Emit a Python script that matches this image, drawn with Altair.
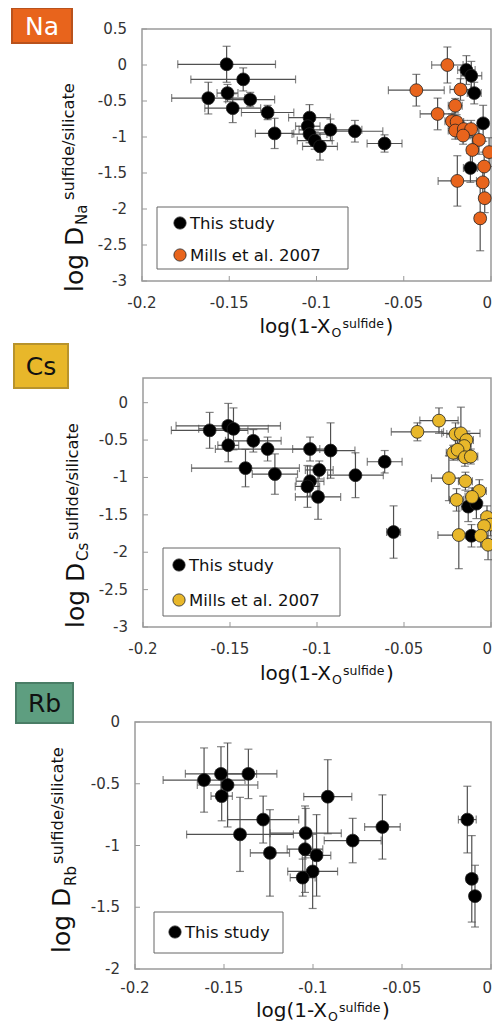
import altair as alt
import pandas as pd

FONT = "DejaVu Sans"
X_TICKS = [-0.2, -0.15, -0.1, -0.05, 0]

# ---------------- Na ----------------
na_this_x = [-0.1515, -0.142, -0.162, -0.151, -0.148, -0.138, -0.128, -0.124, -0.104, -0.105, -0.104,
             -0.101, -0.098, -0.092, -0.078, -0.061, -0.0141, -0.0113, -0.0096, -0.0045, -0.0118]
na_this_y = [0.01, -0.20, -0.46, -0.39, -0.60, -0.48, -0.66, -0.95, -0.73, -0.85, -0.96,
             -1.05, -1.13, -0.90, -0.92, -1.09, -0.07, -0.15, -0.39, -0.81, -1.43]
na_this_xerr = [0.028, 0.03, 0.021, 0.006, 0.016, 0.014, 0.015, 0.011, 0.012, 0.007, 0.01,
                0.01, 0.01, 0.018, 0.016, 0.01, 0.005, 0.006, 0.004, 0.003, 0.004]
na_this_yerr = [0.25, 0.16, 0.22, 0.12, 0.2, 0.1, 0.1, 0.21, 0.18, 0.1, 0.12,
                0.12, 0.19, 0.15, 0.15, 0.12, 0.2, 0.2, 0.15, 0.25, 0.2]
na_mills_x = [-0.025, -0.0428, -0.0175, -0.0205, -0.0306, -0.0224, -0.0197, -0.0205, -0.0156, -0.0114,
              -0.016, -0.0069, -0.0107, -0.0011, -0.0039, -0.0047, -0.0193, -0.0036, -0.0062]
na_mills_y = [0.00, -0.35, -0.34, -0.565, -0.68, -0.78, -0.79, -0.91, -0.89, -0.89,
              -0.98, -1.04, -1.18, -1.21, -1.41, -1.63, -1.61, -1.85, -2.13]
na_mills_xerr = [0.009, 0.016, 0.006, 0.004, 0.01, 0.004, 0.004, 0.004, 0.004, 0.004,
                 0.004, 0.003, 0.003, 0.002, 0.003, 0.003, 0.011, 0.003, 0.003]
na_mills_yerr = [0.25, 0.22, 0.15, 0.1, 0.22, 0.1, 0.1, 0.12, 0.12, 0.12,
                 0.12, 0.2, 0.2, 0.2, 0.2, 0.2, 0.35, 0.2, 0.45]
na_yticks = [0.5, 0, -0.5, -1, -1.5, -2, -2.5, -3]

# ---------------- Cs ----------------
cs_this_x = [-0.1617, -0.151, -0.148, -0.151, -0.1366, -0.1284, -0.1411, -0.1242, -0.104, -0.0922,
             -0.0987, -0.104, -0.1055, -0.0994, -0.0779, -0.0611, -0.056, -0.0131, -0.0084, -0.0112]
cs_this_y = [-0.37, -0.31, -0.35, -0.57, -0.51, -0.62, -0.875, -0.955, -0.62, -0.64,
             -0.90, -1.05, -1.12, -1.26, -0.97, -0.79, -1.73, -1.39, -1.35, -1.78]
cs_this_xerr = [0.022, 0.03, 0.02, 0.006, 0.016, 0.03, 0.031, 0.013, 0.01, 0.014,
                0.008, 0.008, 0.007, 0.013, 0.016, 0.01, 0.004, 0.004, 0.003, 0.003]
cs_this_yerr = [0.24, 0.3, 0.28, 0.22, 0.15, 0.16, 0.25, 0.27, 0.16, 0.37,
                0.12, 0.2, 0.28, 0.3, 0.3, 0.15, 0.35, 0.2, 0.2, 0.15]
cs_mills_x = [-0.0299, -0.0423, -0.0204, -0.0173, -0.0141, -0.0154, -0.0217, -0.0192, -0.015, -0.0116,
              -0.0242, -0.0147, -0.0067, -0.0109, -0.0198, -0.0023, -0.0003, -0.004, -0.0059, -0.0017, -0.0185]
cs_mills_y = [-0.24, -0.39, -0.42, -0.41, -0.50, -0.58, -0.67, -0.63, -0.73, -0.72,
              -1.01, -1.05, -1.18, -1.26, -1.30, -1.53, -1.63, -1.65, -1.78, -1.90, -1.77]
cs_mills_xerr = [0.011, 0.015, 0.005, 0.011, 0.004, 0.004, 0.004, 0.004, 0.004, 0.004,
                 0.01, 0.004, 0.004, 0.004, 0.004, 0.002, 0.002, 0.003, 0.003, 0.002, 0.012]
cs_mills_yerr = [0.17, 0.12, 0.15, 0.35, 0.12, 0.12, 0.1, 0.12, 0.12, 0.1,
                 0.3, 0.12, 0.15, 0.12, 0.15, 0.15, 0.15, 0.15, 0.15, 0.2, 0.45]
cs_yticks = [0, -0.5, -1, -1.5, -2, -2.5, -3]

# ---------------- Rb ----------------
rb_this_x = [-0.1612, -0.1517, -0.148, -0.1513, -0.1363, -0.141, -0.0917, -0.128, -0.061, -0.0777,
             -0.1041, -0.1242, -0.1045, -0.098, -0.1002, -0.1058, -0.0133, -0.0108, -0.009]
rb_this_y = [-0.47, -0.42, -0.51, -0.60, -0.42, -0.91, -0.605, -0.79, -0.85, -0.96,
             -0.90, -1.06, -1.03, -1.08, -1.21, -1.26, -0.79, -1.27, -1.41]
rb_this_xerr = [0.023, 0.02, 0.017, 0.006, 0.016, 0.03, 0.0135, 0.02, 0.01, 0.016,
                0.02, 0.011, 0.01, 0.008, 0.014, 0.007, 0.005, 0.003, 0.003]
rb_this_yerr = [0.26, 0.22, 0.34, 0.2, 0.2, 0.3, 0.3, 0.19, 0.26, 0.18,
                0.2, 0.35, 0.35, 0.33, 0.3, 0.15, 0.27, 0.35, 0.25]
rb_yticks = [0, -0.5, -1, -1.5, -2]

BLACK = "#000000"
ORANGE = "#E8641C"
GOLD = "#E8B72A"


def err_df(xs, ys, xe, ye):
    df = pd.DataFrame({"x": xs, "y": ys, "xerr": xe, "yerr": ye})
    df["xlo"] = df["x"] - df["xerr"]
    df["xhi"] = df["x"] + df["xerr"]
    df["ylo"] = df["y"] - df["yerr"]
    df["yhi"] = df["y"] + df["yerr"]
    return df


def txt(s, x, y, size, angle=0, align="left", color="#111", baseline="alphabetic"):
    return alt.Chart(pd.DataFrame({"t": [s]})).mark_text(
        align=align, baseline=baseline, angle=angle, font=FONT, fontSize=size, color=color
    ).encode(x=alt.value(x), y=alt.value(y), text="t:N")


def panel(P, groups):
    def X(f):
        return alt.X(f, scale=alt.Scale(domain=[-0.2, 0], range=[P["x0"], P["x1"]], nice=False, zero=False),
                     axis=None)

    def Y(f):
        return alt.Y(f, scale=alt.Scale(domain=P["yd"], range=[P["y1"], P["y0"]], nice=False, zero=False),
                     axis=None)

    x0, x1, y0, y1 = P["x0"], P["x1"], P["y0"], P["y1"]
    layers = []
    # frame
    layers.append(alt.Chart(pd.DataFrame({"a": [0]})).mark_rect(
        filled=False, stroke="#9a9a9a", strokeWidth=1.5).encode(
        x=alt.value(x0), x2=alt.value(x1), y=alt.value(y0), y2=alt.value(y1)))
    # inward ticks
    xtdf = pd.DataFrame({"v": X_TICKS, "lab": [f"{v:g}" for v in X_TICKS]})
    ytdf = pd.DataFrame({"v": P["yticks"], "lab": [f"{v:g}" for v in P["yticks"]]})
    layers.append(alt.Chart(xtdf).mark_rule(color="#999", strokeWidth=1).encode(
        x=X("v:Q"), y=alt.value(y1), y2=alt.value(y1 - 5)))
    layers.append(alt.Chart(ytdf).mark_rule(color="#999", strokeWidth=1).encode(
        y=Y("v:Q"), x=alt.value(x0), x2=alt.value(x0 + 5)))
    # tick labels (the last x label is right-aligned so that it stays inside the page)
    inner = xtdf[xtdf["v"] < 0]
    last = xtdf[xtdf["v"] == 0]
    ly = y1 + P["xlab_dy"]
    layers.append(alt.Chart(inner).mark_text(font=FONT, fontSize=15, color="#333", baseline="top",
                                             align="center").encode(
        x=X("v:Q"), y=alt.value(ly), text="lab:N"))
    layers.append(alt.Chart(last).mark_text(font=FONT, fontSize=15, color="#333", baseline="top",
                                            align="right", dx=1).encode(
        x=X("v:Q"), y=alt.value(ly), text="lab:N"))
    layers.append(alt.Chart(ytdf).mark_text(font=FONT, fontSize=15, color="#333", baseline="middle",
                                            align="right").encode(
        y=Y("v:Q"), x=alt.value(x0 - 15), text="lab:N"))
    # error bars
    ebc = "#505050"
    for df, _ in groups:
        b = alt.Chart(df)
        layers.append(b.mark_rule(color=ebc, strokeWidth=1.2).encode(x=X("xlo:Q"), x2="xhi:Q", y=Y("y:Q")))
        layers.append(b.mark_rule(color=ebc, strokeWidth=1.2).encode(x=X("x:Q"), y=Y("ylo:Q"), y2="yhi:Q"))
        for f in ["xlo:Q", "xhi:Q"]:
            layers.append(b.mark_tick(orient="vertical", size=8, thickness=1.2, color=ebc).encode(
                x=X(f), y=Y("y:Q")))
        for f in ["ylo:Q", "yhi:Q"]:
            layers.append(b.mark_tick(orient="horizontal", size=8, thickness=1.2, color=ebc).encode(
                x=X("x:Q"), y=Y(f)))
    # points
    for df, col in groups:
        layers.append(alt.Chart(df).mark_circle(size=165, color=col, stroke="#222", strokeWidth=0.8,
                                                opacity=1).encode(x=X("x:Q"), y=Y("y:Q")))
    # legend
    bx0, by0, bx1, by1 = P["legend"]["box"]
    layers.append(alt.Chart(pd.DataFrame({"a": [0]})).mark_rect(
        fill="white", stroke="#666", strokeWidth=1).encode(
        x=alt.value(bx0), x2=alt.value(bx1), y=alt.value(by0), y2=alt.value(by1)))
    cx, cy, step, tx = P["legend"]["cx"], P["legend"]["cy"], P["legend"]["step"], P["legend"]["tx"]
    for i, (lab, col) in enumerate(P["legend"]["entries"]):
        layers.append(alt.Chart(pd.DataFrame({"a": [0]})).mark_circle(
            size=150, color=col, stroke="#222", strokeWidth=0.8, opacity=1).encode(
            x=alt.value(cx), y=alt.value(cy + i * step)))
        layers.append(txt(lab, tx, cy + i * step + 1, 16.5, baseline="middle"))
    # tag
    t, tx0, tx1, ty0, ty1, tfill, tstroke, tcol = P["tag"]
    layers.append(alt.Chart(pd.DataFrame({"a": [0]})).mark_rect(
        fill=tfill, stroke=tstroke, strokeWidth=2).encode(
        x=alt.value(tx0), x2=alt.value(tx1), y=alt.value(ty0), y2=alt.value(ty1)))
    layers.append(txt(t, (tx0 + tx1) / 2, (ty0 + ty1) / 2 + 1, 25, align="center", color=tcol,
                      baseline="middle"))
    # y title
    yt = P["ytitle"]
    layers.append(txt("log D", yt["lx"], yt["ly"], 25, angle=270))
    layers.append(txt(yt["sub"], yt["sx"], yt["ly"] - 67, 15, angle=270))
    layers.append(txt("sulfide/silicate", yt["px"], yt["py"], 16.3, angle=270))
    # x title
    A = (x0 + x1) / 2 + 14
    bl = P["xbl"]
    layers.append(txt("log(1-X", A, bl, 20, align="right"))
    layers.append(txt("O", A + 1, bl + 4, 12.5))
    layers.append(txt("sulfide", A + 12, bl - 5, 12.5))
    layers.append(txt(")", A + 55, bl, 20))
    return layers


NA = dict(x0=134, x1=483, y0=21, y1=273, yd=[-3, 0.5], yticks=na_yticks, xlab_dy=15,
          tag=("Na", 4, 64, 0, 35, ORANGE, "#B9521C", "white"),
          ytitle=dict(lx=75, ly=284, sx=79, sub="Na", px=66, py=192),
          xbl=325,
          legend=dict(box=(149, 199, 340, 261), cx=172, cy=215, step=32, tx=182,
                      entries=[("This study", BLACK), ("Mills et al. 2007", ORANGE)]))
CS = dict(x0=135, x1=483, y0=370, y1=619, yd=[-3, 0.33], yticks=cs_yticks, xlab_dy=15,
          tag=("Cs", 6, 60, 336, 380, GOLD, "#B8932C", "#111"),
          ytitle=dict(lx=76, ly=620, sx=80, sub="Cs", px=70, py=532),
          xbl=672,
          legend=dict(box=(155, 540, 332, 608), cx=171, cy=557, step=35, tx=181,
                      entries=[("This study", BLACK), ("Mills et al. 2007", GOLD)]))
RB = dict(x0=127, x1=483, y0=714, y1=961, yd=[-2, 0], yticks=rb_yticks, xlab_dy=12,
          tag=("Rb", 8, 65, 675, 715, "#5E9E80", "#4A7D66", "#111"),
          ytitle=dict(lx=62, ly=945, sx=68, sub="Rb", px=55, py=856),
          xbl=1009,
          legend=dict(box=(146, 904, 275, 945), cx=167, cy=924, step=0, tx=177,
                      entries=[("This study", BLACK)]))

layers = []
layers += panel(NA, [(err_df(na_this_x, na_this_y, na_this_xerr, na_this_yerr), BLACK),
                     (err_df(na_mills_x, na_mills_y, na_mills_xerr, na_mills_yerr), ORANGE)])
layers += panel(CS, [(err_df(cs_this_x, cs_this_y, cs_this_xerr, cs_this_yerr), BLACK),
                     (err_df(cs_mills_x, cs_mills_y, cs_mills_xerr, cs_mills_yerr), GOLD)])
layers += panel(RB, [(err_df(rb_this_x, rb_this_y, rb_this_xerr, rb_this_yerr), BLACK)])

chart = (alt.layer(*layers)
         .resolve_scale(x="independent", y="independent")
         .properties(width=484, height=1018, padding=0, autosize=alt.AutoSizeParams(type="none"))
         .configure_view(strokeWidth=0))

chart.save("out.html", embed_options={"renderer": "svg", "actions": False})
